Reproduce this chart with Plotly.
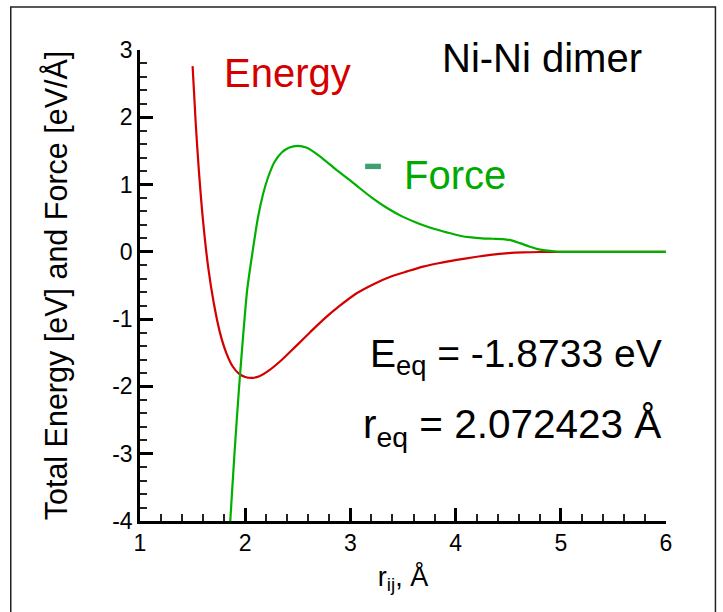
import plotly.graph_objects as go

# Energy curve (eV) vs r_ij (Å)
r_energy = [1.50, 1.53, 1.56, 1.60, 1.65, 1.70, 1.76, 1.82, 1.88, 1.94, 2.00, 2.07, 2.14, 2.22, 2.33,
            2.43, 2.51, 2.62, 2.74, 2.90, 3.06, 3.22, 3.38, 3.54, 3.69, 3.85, 4.01, 4.17, 4.33, 4.50,
            4.64, 4.80, 5.00, 5.50, 6.00]
energy = [2.76, 1.90, 1.20, 0.45, -0.25, -0.75, -1.20, -1.50, -1.70, -1.81, -1.86, -1.873, -1.845, -1.77, -1.63,
          -1.48, -1.36, -1.19, -1.01, -0.80, -0.615, -0.48, -0.37, -0.29, -0.22, -0.165, -0.12, -0.08, -0.046, -0.02,
          -0.008, -0.002, 0.0, 0.0, 0.0]

# Force curve (eV/Å)
r_force = [1.82, 1.86, 1.90, 1.94, 1.98, 2.02, 2.07, 2.12, 2.17, 2.22, 2.28, 2.35, 2.42, 2.50, 2.58,
           2.71, 2.85, 3.03, 3.20, 3.345, 3.50, 3.66, 3.80, 3.915, 4.04, 4.15, 4.25, 4.35, 4.45, 4.53,
           4.61, 4.70, 4.77, 4.85, 4.92, 5.00, 5.50, 6.00]
force = [-5.0, -3.95, -2.95, -2.05, -1.25, -0.55, 0.0, 0.50, 0.86, 1.12, 1.34, 1.48, 1.55, 1.575, 1.55,
         1.42, 1.24, 1.02, 0.81, 0.655, 0.52, 0.415, 0.34, 0.29, 0.24, 0.214, 0.201, 0.195, 0.19, 0.17,
         0.13, 0.08, 0.045, 0.022, 0.01, 0.0, 0.0, 0.0]

x_ticks = [1, 2, 3, 4, 5, 6]
y_ticks = [-4, -3, -2, -1, 0, 1, 2, 3]

RED = "#d40000"
GREEN = "#00b000"
FONT = "Liberation Sans, Arial, sans-serif"

fig = go.Figure()
fig.add_trace(go.Scatter(x=r_energy, y=energy, mode="lines",
                         line=dict(color=RED, width=2.2, shape="spline", smoothing=0.7),
                         showlegend=False, hoverinfo="skip"))
fig.add_trace(go.Scatter(x=r_force, y=force, mode="lines",
                         line=dict(color=GREEN, width=2.2, shape="spline", smoothing=0.7),
                         showlegend=False, hoverinfo="skip"))

axis_common = dict(
    showgrid=False, zeroline=False, showline=True, linecolor="black", linewidth=2.5,
    ticks="inside", ticklen=13, tickwidth=2.5, tickcolor="black",
    tickfont=dict(family=FONT, size=23, color="black"),
    mirror=False,
)

fig.update_xaxes(range=[1, 6], tickvals=x_ticks, ticktext=[str(v) for v in x_ticks],
                 minor=dict(dtick=0.2, ticks="inside", ticklen=7, tickwidth=1.5, tickcolor="#222"),
                 title=dict(text="r<sub>ij</sub>, Å", font=dict(family=FONT, size=27, color="black"), standoff=12),
                 **axis_common)
fig.update_yaxes(range=[-4, 3], tickvals=y_ticks, ticktext=[str(v) for v in y_ticks],
                 minor=dict(dtick=0.2, ticks="inside", ticklen=7, tickwidth=1.5, tickcolor="#222"),
                 title=dict(text="Total Energy [eV] and Force [eV/Å]", font=dict(family=FONT, size=30.5, color="black"),
                            standoff=36),
                 **axis_common)

ann_font = dict(family=FONT, size=40)
fig.add_annotation(x=1.78, y=2.66, text="Energy", showarrow=False, xanchor="left", yanchor="middle",
                   font=dict(**ann_font, color=RED))
fig.add_annotation(x=3.49, y=1.14, text="Force", showarrow=False, xanchor="left", yanchor="middle",
                   font=dict(**ann_font, color="#00aa00"))
fig.add_annotation(x=3.85, y=2.88, text="Ni-Ni dimer", showarrow=False, xanchor="left", yanchor="middle",
                   font=dict(family=FONT, size=40, color="black"))
fig.add_annotation(x=3.167, y=-1.55, text="E<sub>eq</sub> = -1.8733 eV", showarrow=False, xanchor="left",
                   yanchor="middle", font=dict(family=FONT, size=39, color="black"))
fig.add_annotation(x=3.10, y=-2.6, text="r<sub>eq</sub> = 2.072423 Å", showarrow=False, xanchor="left",
                   yanchor="middle", font=dict(family=FONT, size=40.5, color="black"))

# small legend dash next to "Force"
fig.add_shape(type="rect", x0=3.14, x1=3.29, y0=1.23, y1=1.31, xref="x", yref="y",
              fillcolor="#3f9f6f", line=dict(width=0))

# outer frame
fig.add_shape(type="rect", xref="paper", yref="paper", x0=-0.2457, x1=1.094, y0=-0.3, y1=1.0913,
              line=dict(color="#222", width=1.5), fillcolor="rgba(0,0,0,0)", layer="below")

fig.update_layout(
    width=723, height=612,
    margin=dict(l=139.5, r=56.5, t=50, b=91),
    paper_bgcolor="white", plot_bgcolor="white",
    showlegend=False,
)

fig.write_html("out.html")
